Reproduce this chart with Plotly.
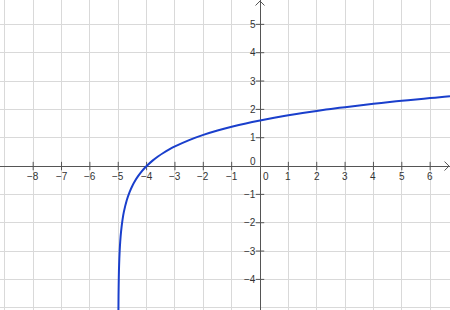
import plotly.graph_objects as go

# Curve points
curve_x = [-4.994, -4.99, -4.98, -4.97, -4.95, -4.93, -4.9, -4.85, -4.8, -4.7, -4.6, -4.5,
           -4.4, -4.3, -4.2, -4.1, -4.0, -3.8, -3.6, -3.4, -3.2, -3.0, -2.5, -2.0, -1.5,
           -1.0, -0.5, 0.0, 0.5, 1.0, 1.5, 2.0, 2.5, 3.0, 3.5, 4.0, 4.5, 5.0, 5.5, 6.0,
           6.5, 6.7]
curve_y = [-5.116, -4.605, -3.912, -3.507, -2.996, -2.659, -2.303, -1.897, -1.609, -1.204,
           -0.916, -0.693, -0.511, -0.357, -0.223, -0.105, 0.0, 0.182, 0.336, 0.470, 0.588,
           0.693, 0.916, 1.099, 1.253, 1.386, 1.504, 1.609, 1.705, 1.792, 1.872, 1.946,
           2.015, 2.079, 2.140, 2.197, 2.251, 2.303, 2.351, 2.398, 2.442, 2.460]

x_ticks = [-8, -7, -6, -5, -4, -3, -2, -1, 1, 2, 3, 4, 5, 6]
y_ticks = [-4, -3, -2, -1, 1, 2, 3, 4, 5]

X_RANGE = [-9.17, 6.70]
Y_RANGE = [-5.08, 5.86]
W, H = 450, 310
ppx = W / (X_RANGE[1] - X_RANGE[0])
ppy = H / (Y_RANGE[1] - Y_RANGE[0])

AXIS = "#555555"
GRID = "#d9d9d9"
LABEL = "#333333"
FONT = "Liberation Sans, Arial, sans-serif"

def lab(v):
    return ("−" + str(-v)) if v < 0 else str(v)

fig = go.Figure()

# tick marks on axes
fig.add_trace(go.Scatter(x=x_ticks, y=[0] * len(x_ticks), mode="markers",
                         marker=dict(symbol="line-ns", size=6, line=dict(color=AXIS, width=1)),
                         hoverinfo="skip", showlegend=False))
fig.add_trace(go.Scatter(x=[0] * len(y_ticks), y=y_ticks, mode="markers",
                         marker=dict(symbol="line-ew", size=6, line=dict(color=AXIS, width=1)),
                         hoverinfo="skip", showlegend=False))

# arrow heads
ax_tip = X_RANGE[1] - 1 / ppx
fig.add_trace(go.Scatter(x=[ax_tip - 4.5 / ppx, ax_tip, ax_tip - 4.5 / ppx],
                         y=[4.5 / ppy, 0, -4.5 / ppy], mode="lines",
                         line=dict(color=AXIS, width=1), hoverinfo="skip", showlegend=False))
ay_tip = Y_RANGE[1] - 1 / ppy
fig.add_trace(go.Scatter(x=[-4.5 / ppx, 0, 4.5 / ppx],
                         y=[ay_tip - 4.5 / ppy, ay_tip, ay_tip - 4.5 / ppy], mode="lines",
                         line=dict(color=AXIS, width=1), hoverinfo="skip", showlegend=False))

# curve
fig.add_trace(go.Scatter(x=curve_x, y=curve_y, mode="lines", line_shape="spline",
                         line=dict(color="#1a3fcc", width=2), hoverinfo="skip", showlegend=False))

ann = []
for v in x_ticks:
    ann.append(dict(x=v, y=0, xref="x", yref="y", text=lab(v), showarrow=False,
                    xanchor="center", yanchor="top", yshift=-3,
                    font=dict(size=10, color=LABEL, family=FONT)))
for v in y_ticks:
    ann.append(dict(x=0, y=v, xref="x", yref="y", text=lab(v), showarrow=False,
                    xanchor="right", yanchor="middle", xshift=-2,
                    font=dict(size=10, color=LABEL, family=FONT)))
ann.append(dict(x=0, y=0, xref="x", yref="y", text="0", showarrow=False,
                xanchor="left", yanchor="top", xshift=1, yshift=-3,
                font=dict(size=10, color=LABEL, family=FONT)))
ann.append(dict(x=0, y=0, xref="x", yref="y", text="0", showarrow=False,
                xanchor="right", yanchor="bottom", xshift=-2, yshift=-3,
                font=dict(size=10, color=LABEL, family=FONT)))

fig.update_layout(
    width=W, height=H, margin=dict(l=0, r=0, t=0, b=0),
    paper_bgcolor="white", plot_bgcolor="white",
    xaxis=dict(range=X_RANGE, dtick=1, tick0=0, showgrid=True, gridcolor=GRID, gridwidth=1,
               zeroline=True, zerolinecolor=AXIS, zerolinewidth=1, showticklabels=False,
               ticks="", fixedrange=True),
    yaxis=dict(range=Y_RANGE, dtick=1, tick0=0, showgrid=True, gridcolor=GRID, gridwidth=1,
               zeroline=True, zerolinecolor=AXIS, zerolinewidth=1, showticklabels=False,
               ticks="", fixedrange=True),
    annotations=ann,
)

fig.write_html("out.html")
